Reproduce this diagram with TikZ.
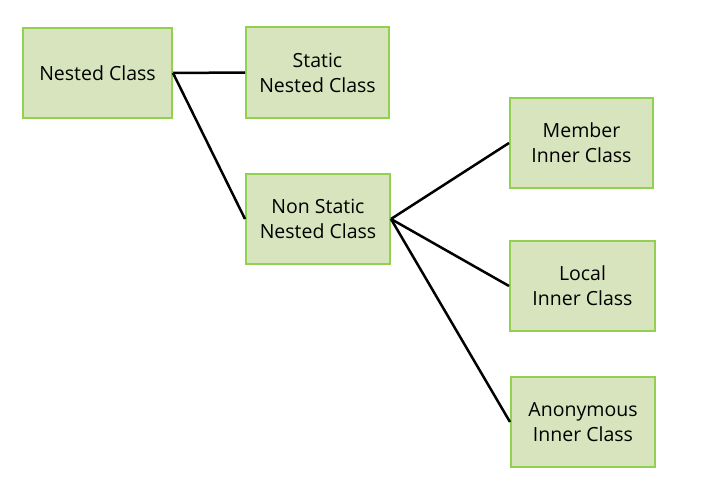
\documentclass[tikz,border=0pt]{standalone}
\usepackage{fontspec}
\setmainfont{Open Sans}
\usetikzlibrary{positioning}
\definecolor{boxfill}{HTML}{D7E4BD}
\definecolor{boxline}{HTML}{92D050}

\begin{document}
\begin{tikzpicture}[%
    x=1pt,
    y=-1pt,
    class/.style={draw=boxline, fill=boxfill, line width=2pt,
      minimum width=145pt, minimum height=90pt, align=center,
      font=\fontsize{19.5}{25}\selectfont, inner sep=0pt},
    link/.style={line width=2.5pt, black}
  ]
  \useasboundingbox (0,0) rectangle (702,495);

  \node[class, minimum width=149pt] (nested) at (97.5,73) {Nested Class};
  \node[class, minimum width=143pt] (static) at (317.5,72.5) {Static\\Nested Class};
  \node[class, minimum width=144pt] (nonstatic) at (318,219) {Non Static\\Nested Class};
  \node[class, minimum width=143pt] (member) at (581.5,143) {Member\\Inner Class};
  \node[class] (local) at (582.5,286) {Local\\Inner Class};
  \node[class, minimum width=144pt] (anon) at (583,422) {Anonymous\\Inner Class};

  \draw[link] (nested.east) -- (static.west);
  \draw[link] (nested.east) -- (nonstatic.west);
  \draw[link] (nonstatic.east) -- (member.west);
  \draw[link] (nonstatic.east) -- (local.west);
  \draw[link] (nonstatic.east) -- (anon.west);

\end{tikzpicture}
\end{document}
